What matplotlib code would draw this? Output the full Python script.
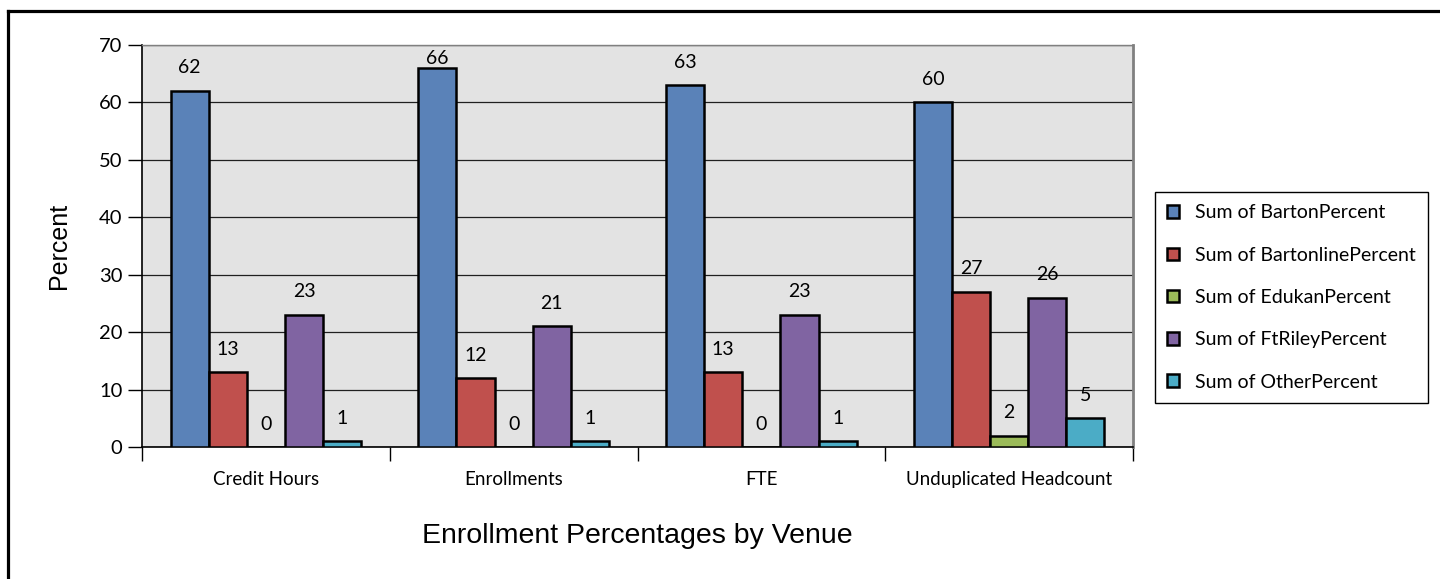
import numpy as np
import matplotlib
matplotlib.use("Agg")
import matplotlib.pyplot as plt
from matplotlib.lines import Line2D
from matplotlib.patches import Patch

# ---------------------------------------------------------------------------
# Data
# ---------------------------------------------------------------------------
CATEGORIES = ["Credit Hours", "Enrollments", "FTE", "Unduplicated Headcount"]
SERIES = ["Sum of BartonPercent", "Sum of BartonlinePercent",
          "Sum of EdukanPercent", "Sum of FtRileyPercent", "Sum of OtherPercent"]
BARTON   = [62, 66, 63, 60]
ONLINE   = [13, 12, 13, 27]
EDUKAN   = [0, 0, 0, 2]
FTRILEY  = [23, 21, 23, 26]
OTHER    = [1, 1, 1, 5]

COLORS = ["#5A82B8", "#C0504D", "#9BBB59", "#8064A2", "#4BACC6"]
UI_FONT = ["Lato", "DejaVu Sans"]
TITLE_FONT = ["Liberation Sans", "DejaVu Sans"]

# ---------------------------------------------------------------------------
# Figure
# ---------------------------------------------------------------------------
fig = plt.figure(figsize=(14.4, 5.79), dpi=100)
ax = fig.add_axes([142/1440, 1 - 447/579, (1133 - 142)/1440, (447 - 45)/579])
ax.set_facecolor("#E3E3E3")

x = np.arange(len(CATEGORIES))
width = 1 / 6.5
offsets = (np.arange(5) - 2) * width

for vals, col, lbl, off in zip([BARTON, ONLINE, EDUKAN, FTRILEY, OTHER],
                               COLORS, SERIES, offsets):
    ax.bar(x + off, vals, width, color=col, edgecolor="black",
           linewidth=1.8, label=lbl, zorder=3)
    for xi, v in zip(x, vals):
        ty = min(v + 4.0, 67.6)  # labels near the top are kept inside
        ax.text(xi + off, ty, f"{v}", ha="center", va="center",
                fontsize=14, family=UI_FONT, zorder=4)

ax.set_ylim(0, 70)
ax.set_xlim(-0.5, len(CATEGORIES) - 0.5)
ax.set_yticks(np.arange(0, 71, 10))
ax.grid(axis="y", color="#202020", linewidth=0.9, zorder=1)
ax.set_axisbelow(True)

ax.set_xticks(np.arange(-0.5, len(CATEGORIES)), [""] * (len(CATEGORIES) + 1))
ax.set_xticks(x, CATEGORIES, minor=True)
ax.tick_params(axis="x", which="major", length=10, width=1, direction="out")
ax.tick_params(axis="x", which="minor", length=0, pad=17, labelsize=13.5)
ax.tick_params(axis="y", length=10, width=1, direction="out", pad=4,
               labelsize=14.5)
for t in ax.get_xticklabels(minor=True) + ax.get_yticklabels():
    t.set_family(UI_FONT)

for s in ["left", "bottom"]:
    ax.spines[s].set_color("black")
    ax.spines[s].set_linewidth(1.2)
ax.spines["right"].set_color("#808080")
ax.spines["right"].set_linewidth(2)
ax.spines["top"].set_color("#808080")
ax.spines["top"].set_linewidth(1)

ax.set_ylabel("Percent", fontsize=18, family=TITLE_FONT, labelpad=20)
fig.text((142 + 1133) / 2 / 1440, 1 - 536/579,
         "Enrollment Percentages by Venue", ha="center", va="center",
         fontsize=20.5, family=TITLE_FONT)

# ---- Legend ---------------------------------------------------------------
handles = [Patch(facecolor=c, edgecolor="black", linewidth=1.8) for c in COLORS]
leg = fig.legend(handles, SERIES, loc="center",
                 bbox_to_anchor=(1291.5/1440, 1 - 297.5/579),
                 prop={"family": UI_FONT, "size": 14}, frameon=True,
                 fancybox=False, edgecolor="black", framealpha=1,
                 handlelength=0.62, handleheight=0.62, labelspacing=1.3,
                 handletextpad=0.8, borderpad=0.65, borderaxespad=0)
leg.get_frame().set_linewidth(1)

# ---- Outer chart border (left and top visible) ----------------------------
fig.add_artist(Line2D([7.5/1440, 7.5/1440], [0, 1 - 11/579], color="black",
                      linewidth=2.3, transform=fig.transFigure))
fig.add_artist(Line2D([7.5/1440, 1], [1 - 11/579, 1 - 11/579], color="black",
                      linewidth=2.3, transform=fig.transFigure))

plt.savefig("out.png", dpi=100)
